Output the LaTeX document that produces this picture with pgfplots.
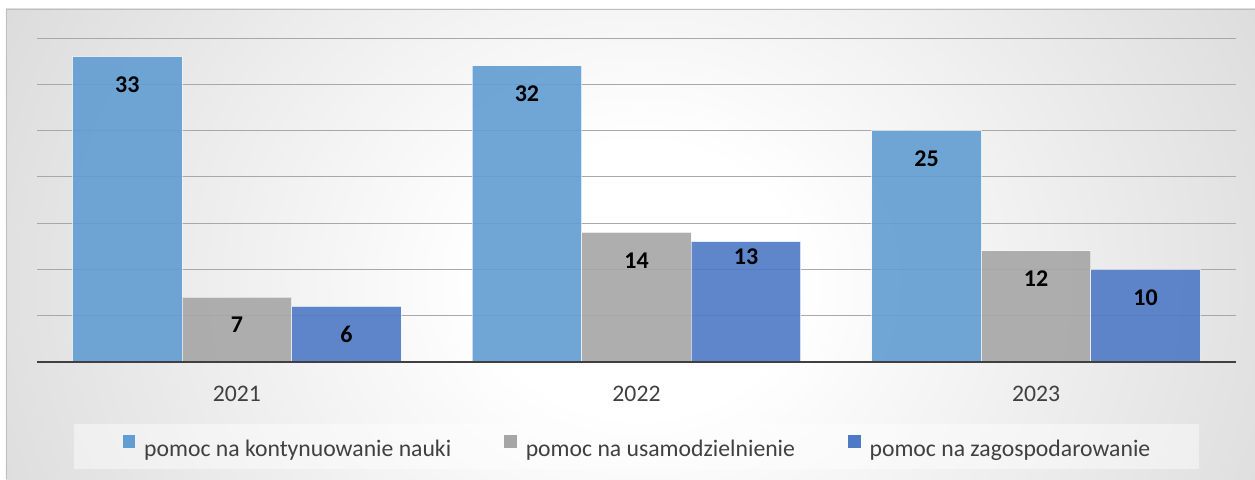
\documentclass[border=0pt]{standalone}
\usepackage{fontspec}
\setmainfont{Carlito}
\usepackage{pgfplots}
\usepackage{pgfplotstable}
\pgfplotsset{compat=1.18}
\usetikzlibrary{backgrounds,calc}
\definecolor{cA}{RGB}{97,157,210}
\definecolor{cB}{RGB}{166,166,166}
\definecolor{cC}{RGB}{78,121,197}
\definecolor{txt}{RGB}{64,64,64}
\definecolor{gridc}{RGB}{168,168,168}
\definecolor{bgout}{RGB}{196,196,196}
\definecolor{bord}{RGB}{190,190,190}
\pgfdeclareradialshading{bgshade}{\pgfpoint{0bp}{0bp}}{color(0bp)=(white); color(6bp)=(white); color(41bp)=(bgout); color(50bp)=(bgout)}

\pgfplotstableread{
x y off
0 33 28
1 32 28
2 25 28
}\tabA
\pgfplotstableread{
x y off
0 7 28
1 14 28
2 12 28
}\tabB
\pgfplotstableread{
x y off
0 6 28
1 13 15
2 10 28
}\tabC

\begin{document}
\begin{tikzpicture}[x=1pt,y=1pt]
\begin{axis}[
  name=ax, at={(0,0)}, anchor=south west, scale only axis,
  width=1199pt, height=324pt,
  xmin=-0.5, xmax=2.5, ymin=0, ymax=35,
  ybar=0pt, bar width=109.5pt,
  axis line style={draw=none}, tick style={draw=none},
  ytick={5,10,...,35}, yticklabels={},
  ymajorgrids, grid style={gridc, line width=1pt},
  xtick={0,1,2}, xticklabels={2021,2022,2023},
  xticklabel style={font=\fontsize{23.7}{28}\selectfont, text=txt, anchor=base, yshift=-35pt},
  /pgf/number format/assume math mode=true,
  nodes near coords,
  visualization depends on={\thisrow{off}\as\off},
  every node near coord/.append style={font=\fontsize{24}{28}\selectfont\bfseries, text=black, text opacity=1, anchor=center, yshift=-\off pt},
  legend columns=3,
  legend image code/.code={\fill[#1, fill opacity=1, draw=none] (0pt,1.5pt) rectangle (12.5pt,14pt);},
  legend style={at={(0.5,-0.2608)}, anchor=center, draw=none, fill=white, fill opacity=0.45, text opacity=1,
    inner xsep=49pt, inner ysep=11.5pt, font=\fontsize{23.7}{28}\selectfont, text=txt,
    nodes={inner sep=0pt},
    /tikz/every odd column/.append style={column sep=9pt},
    /tikz/every even column/.append style={column sep=53pt}},
]
\addplot[fill=cA, draw=white, draw opacity=0.6, fill opacity=0.9, line width=1pt] table[x=x,y=y]{\tabA};
\addlegendentry{pomoc na kontynuowanie nauki}
\addplot[fill=cB, draw=white, draw opacity=0.6, fill opacity=0.9, line width=1pt] table[x=x,y=y]{\tabB};
\addlegendentry{pomoc na usamodzielnienie}
\addplot[fill=cC, draw=white, draw opacity=0.6, fill opacity=0.9, line width=1pt] table[x=x,y=y]{\tabC};
\addlegendentry{pomoc na zagospodarowanie}
\draw[txt, line width=3pt] (axis cs:-0.5,0) -- (axis cs:2.5,0);
\coordinate (O) at (rel axis cs:0,0);
\end{axis}
\begin{scope}[on background layer, shift={(O)}]
  \fill[white] (-37,-117) rectangle (1218,362);
  \begin{scope}
    \clip (-31,-117) rectangle (1218,353);
    \shade[shading=bgshade] (-57,-483) rectangle (1263,647);
  \end{scope}
  \draw[bord, line width=0.8pt] (-31,-117) -- (-31,353) -- (1218,353);
\end{scope}
\pgfresetboundingbox
\path[use as bounding box] ($(O)+(-37,-117)$) rectangle ($(O)+(1218,362)$);
\end{tikzpicture}
\end{document}
